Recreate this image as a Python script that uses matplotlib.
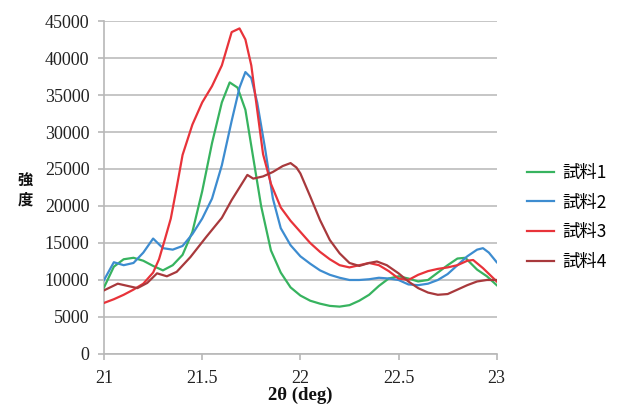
import matplotlib
matplotlib.use("Agg")
import matplotlib.pyplot as plt

# ---- data ----
labels = ["試料1", "試料2", "試料3", "試料4"]
colors = ["#37b35f", "#3d8cd0", "#e8333a", "#a8393c"]

x1 = [21.00, 21.05, 21.10, 21.15, 21.20, 21.25, 21.30, 21.35, 21.40, 21.45, 21.50, 21.55,
      21.60, 21.64, 21.68, 21.72, 21.76, 21.80, 21.85, 21.90, 21.95, 22.00, 22.05, 22.10,
      22.15, 22.20, 22.25, 22.30, 22.35, 22.40, 22.45, 22.50, 22.55, 22.60, 22.65, 22.70,
      22.75, 22.80, 22.84, 22.90, 22.95, 23.00]
y1 = [9000, 11800, 12800, 13000, 12600, 11900, 11300, 12000, 13400, 16500, 22000, 28500,
      34000, 36700, 36000, 33000, 26500, 20000, 14000, 11000, 9000, 7900, 7200, 6800,
      6500, 6400, 6600, 7200, 8000, 9200, 10200, 10500, 10200, 9800, 10000, 11000,
      12000, 12900, 13000, 11400, 10500, 9300]

x2 = [21.00, 21.05, 21.10, 21.15, 21.20, 21.25, 21.30, 21.35, 21.40, 21.45, 21.50, 21.55,
      21.60, 21.65, 21.69, 21.72, 21.75, 21.78, 21.82, 21.86, 21.90, 21.95, 22.00, 22.05,
      22.10, 22.15, 22.20, 22.25, 22.30, 22.35, 22.40, 22.45, 22.50, 22.55, 22.60, 22.65,
      22.70, 22.75, 22.80, 22.85, 22.90, 22.93, 22.96, 23.00]
y2 = [10000, 12400, 12000, 12300, 13700, 15600, 14300, 14100, 14600, 16200, 18300, 21000,
      25500, 31500, 36000, 38100, 37300, 34000, 27800, 21000, 17000, 14700, 13200, 12200,
      11300, 10700, 10300, 10000, 10000, 10100, 10300, 10200, 10000, 9400, 9300, 9500,
      10000, 10800, 12000, 13200, 14100, 14300, 13700, 12400]

x3 = [21.00, 21.05, 21.10, 21.15, 21.20, 21.25, 21.28, 21.31, 21.34, 21.37, 21.40, 21.45,
      21.50, 21.55, 21.60, 21.65, 21.69, 21.72, 21.75, 21.78, 21.81, 21.85, 21.90, 21.95,
      22.00, 22.05, 22.10, 22.15, 22.20, 22.25, 22.30, 22.35, 22.40, 22.45, 22.50, 22.55,
      22.60, 22.65, 22.70, 22.75, 22.80, 22.85, 22.88, 22.93, 23.00]
y3 = [6900, 7400, 8000, 8700, 9500, 11000, 12800, 15500, 18300, 22500, 26900, 31000,
      34000, 36200, 39000, 43500, 44000, 42500, 39000, 33000, 27000, 23000, 19800, 18000,
      16500, 15000, 13800, 12800, 12000, 11700, 12000, 12300, 12000, 11200, 10200, 10000,
      10700, 11200, 11500, 11700, 12000, 12600, 12700, 11600, 9800]

x4 = [21.00, 21.07, 21.12, 21.17, 21.22, 21.27, 21.32, 21.37, 21.44, 21.52, 21.60, 21.65,
      21.69, 21.73, 21.76, 21.81, 21.86, 21.91, 21.95, 21.98, 22.00, 22.05, 22.10, 22.15,
      22.20, 22.25, 22.30, 22.35, 22.39, 22.44, 22.50, 22.55, 22.60, 22.65, 22.70, 22.75,
      22.80, 22.85, 22.90, 22.95, 23.00]
y4 = [8600, 9500, 9200, 8900, 9600, 10900, 10500, 11100, 13100, 15800, 18400, 20800,
      22500, 24200, 23700, 24000, 24600, 25400, 25800, 25200, 24400, 21300, 18100, 15400,
      13600, 12300, 11900, 12300, 12500, 12000, 10900, 9800, 8900, 8300, 8000, 8100,
      8700, 9300, 9800, 10000, 10000]

xs = [x1, x2, x3, x4]
ys = [y1, y2, y3, y4]

yticks = [0, 5000, 10000, 15000, 20000, 25000, 30000, 35000, 40000, 45000]
xticks = [21, 21.5, 22, 22.5, 23]
xticklabels = ["21", "21.5", "22", "22.5", "23"]

# ---- figure ----
fig = plt.figure(figsize=(6.29, 4.08), dpi=100)
ax = fig.add_axes([0.1654, 0.1324, 0.6243, 0.8161])

serif = ["Liberation Serif", "DejaVu Serif"]
cjk = ["Noto Sans CJK JP", "DejaVu Sans"]

handles = []
for x, y, c, lab in zip(xs, ys, colors, labels):
    h, = ax.plot(x, y, color=c, lw=1.6, label=lab, zorder=3)
    handles.append(h)

ax.set_xlim(21, 23)
ax.set_ylim(0, 45000)
ax.set_yticks(yticks)
ax.set_yticklabels([str(v) for v in yticks])
ax.set_xticks(xticks)
ax.set_xticklabels(xticklabels)
ax.yaxis.grid(True, color="#c6c6c6", lw=1.4, zorder=0)
ax.set_axisbelow(True)

for s in ["top", "right"]:
    ax.spines[s].set_visible(False)
for s in ["left", "bottom"]:
    ax.spines[s].set_color("#b8b8b8")
    ax.spines[s].set_linewidth(1.2)

ax.tick_params(axis="both", colors="#b8b8b8", length=4, width=1.2, labelcolor="#222222",
               labelsize=13)
ax.tick_params(axis="y", pad=6.5)
ax.tick_params(axis="x", pad=7.5)
for lab in ax.get_xticklabels() + ax.get_yticklabels():
    lab.set_family(serif)

ax.set_xlabel("2θ (deg)", family=serif, fontweight="bold", fontsize=13.5, labelpad=0,
              color="#111111")
fig.text(0.040, 0.535, "強\n度", family=cjk, fontweight="bold", fontsize=11,
         ha="center", va="center", linespacing=1.3, color="#111111")

leg = fig.legend(handles=handles, labels=labels, loc="center left",
                 bbox_to_anchor=(0.813, 0.467), frameon=False,
                 prop={"family": cjk, "size": 12.5}, handlelength=1.55,
                 handletextpad=0.5, labelspacing=0.68)

fig.savefig("out.png", dpi=100)
